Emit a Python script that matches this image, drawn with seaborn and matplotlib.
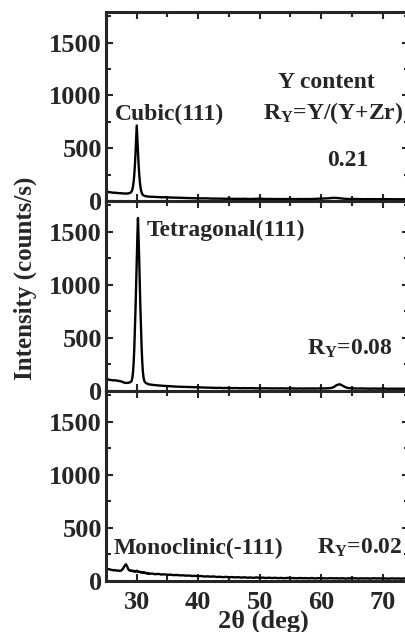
import numpy as np
import pandas as pd
import seaborn as sns
import matplotlib
matplotlib.use("Agg")
import matplotlib.pyplot as plt
from matplotlib.ticker import MultipleLocator

# ---------------- data ----------------
x_bg = [25.0, 25.25, 25.5, 25.75, 26.0, 26.25, 26.5, 26.75, 27.0, 27.25, 27.5, 27.75, 28.0, 28.25]
x_pk = [28.5, 28.6, 28.7, 28.8, 28.9, 29.0, 29.1, 29.2, 29.3, 29.4,
        29.5, 29.6, 29.7, 29.8, 29.9, 30.0, 30.1, 30.2, 30.3, 30.4,
        30.5, 30.6, 30.7, 30.8, 30.9, 31.0, 31.1, 31.2, 31.3, 31.4,
        31.5, 31.6, 31.7, 31.8, 31.9, 32.0]
x_tail = [32.5, 33.0, 33.5, 34.0, 34.5, 35.0, 35.5, 36.0, 36.5, 37.0,
          37.5, 38.0, 38.5, 39.0, 39.5, 40.0, 40.5, 41.0, 41.5, 42.0,
          42.5, 43.0, 43.5, 44.0, 44.5, 45.0, 45.5, 46.0, 46.5, 47.0,
          47.5, 48.0, 48.5, 49.0, 49.5, 50.0, 50.5, 51.0, 51.5, 52.0,
          52.5, 53.0, 53.5, 54.0, 54.5, 55.0, 55.5, 56.0, 56.5, 57.0,
          57.5, 58.0, 58.5, 59.0, 59.5, 60.0, 60.5, 61.0, 61.5, 62.0,
          62.5, 63.0, 63.5, 64.0, 64.5, 65.0, 65.5, 66.0, 66.5, 67.0,
          67.5, 68.0, 68.5, 69.0, 69.5, 70.0, 70.5, 71.0, 71.5, 72.0,
          72.5, 73.0, 73.5, 74.0, 74.5]
two_theta = x_bg + x_pk + x_tail

# R_Y = 0.21 (cubic)
I_021 = ([95, 88, 84, 82, 80, 78, 79, 76, 75, 74, 72, 71, 70, 70] +
         [71, 72, 73, 75, 77, 80, 85, 95, 112, 140,
          185, 250, 340, 450, 580, 715, 590, 460, 350, 255,
          185, 135, 100, 80, 66, 58, 53, 50, 48, 46,
          45, 44, 43, 43, 42, 41] +
         [40, 38, 37, 35, 36, 34, 33, 32, 31, 30,
          30, 28, 28, 27, 26, 25, 25, 24, 25, 23,
          23, 22, 23, 22, 21, 22, 21, 20, 21, 20,
          21, 20, 19, 20, 21, 22, 20, 19, 20, 19,
          18, 19, 18, 19, 18, 19, 18, 18, 19, 18,
          19, 18, 19, 21, 22, 21, 22, 25, 28, 30,
          29, 26, 22, 20, 19, 18, 19, 18, 18, 17,
          18, 17, 18, 17, 18, 17, 18, 17, 17, 16,
          17, 16, 17, 16, 16])

# R_Y = 0.08 (tetragonal)
I_008 = ([128, 112, 106, 104, 102, 100, 101, 98, 96, 93, 90, 84, 78, 76] +
         [76, 77, 78, 80, 82, 85, 90, 100, 130, 180,
          270, 400, 570, 770, 1000, 1240, 1450, 1630, 1450, 1240,
          1000, 770, 570, 400, 270, 180, 130, 100, 88, 80,
          75, 72, 68, 66, 64, 62] +
         [58, 55, 52, 50, 48, 46, 45, 43, 41, 40,
          39, 37, 36, 35, 34, 33, 32, 32, 31, 30,
          30, 29, 30, 28, 29, 28, 27, 28, 27, 26,
          27, 26, 27, 26, 25, 26, 25, 26, 25, 24,
          25, 24, 25, 24, 24, 25, 24, 23, 24, 23,
          24, 23, 24, 23, 24, 25, 24, 25, 27, 35,
          55, 64, 50, 34, 27, 25, 24, 23, 24, 23,
          23, 22, 23, 22, 22, 23, 22, 21, 22, 21,
          22, 21, 22, 21, 21])

# R_Y = 0.02 (monoclinic)
I_002 = ([118, 110, 112, 106, 104, 100, 103, 97, 99, 95, 100, 115, 140, 158] +
         [130, 115, 105, 100, 98, 102, 96, 94, 97, 92,
          95, 90, 93, 88, 92, 98, 90, 86, 89, 84,
          87, 82, 85, 80, 83, 78, 81, 76, 79, 74,
          77, 72, 75, 70, 73, 68] +
         [70, 64, 67, 61, 63, 58, 60, 55, 57, 53,
          54, 50, 52, 47, 49, 45, 47, 42, 44, 41,
          43, 38, 40, 36, 39, 35, 37, 34, 36, 32,
          35, 31, 33, 30, 34, 29, 32, 28, 31, 28,
          30, 27, 29, 26, 29, 27, 28, 25, 28, 26,
          27, 25, 28, 24, 27, 25, 26, 24, 27, 25,
          26, 24, 26, 23, 25, 24, 26, 23, 25, 24,
          25, 23, 26, 24, 25, 23, 24, 22, 25, 23,
          24, 22, 24, 23, 24])

x_ticks = [30, 40, 50, 60, 70]
y_ticks = [0, 500, 1000, 1500]
phase_labels = ["Cubic(111)", "Tetragonal(111)", "Monoclinic(-111)"]
ry_labels = ["0.21", r"R$_{\rm Y}$=0.08", r"R$_{\rm Y}$=0.02"]

# ---------------- style ----------------
sns.set_style("ticks")
plt.rcParams["font.family"] = ["Liberation Serif", "DejaVu Serif"]
plt.rcParams["font.weight"] = "bold"
plt.rcParams["mathtext.fontset"] = "custom"
plt.rcParams["mathtext.rm"] = "Liberation Serif:bold"
plt.rcParams["mathtext.it"] = "Liberation Serif:bold"
plt.rcParams["mathtext.bf"] = "Liberation Serif:bold"

W, H = 406, 632
fig = plt.figure(figsize=(W / 100, H / 100), dpi=100)

left = 106 / W
right_px = 408.5
width = (right_px - 106) / W
panels_px = [(12, 201), (201, 391), (391, 581)]

series = [I_021, I_008, I_002]
axes = []
for i, ((top_px, bot_px), yy) in enumerate(zip(panels_px, series)):
    ax = fig.add_axes([left, 1 - bot_px / H, width, (bot_px - top_px) / H])
    df = pd.DataFrame({"two_theta": two_theta, "I": yy})
    sns.lineplot(data=df, x="two_theta", y="I", ax=ax, color="black",
                 lw=1.7, estimator=None, sort=False)
    ax.set_xlim(25, 74.2)
    ax.set_ylim(0, 1790)
    ax.set_xticks(x_ticks)
    ax.xaxis.set_minor_locator(MultipleLocator(5))
    ax.set_yticks(y_ticks)
    ax.yaxis.set_minor_locator(MultipleLocator(250))
    ax.set_xlabel("")
    ax.set_ylabel("")
    for s in ax.spines.values():
        s.set_linewidth(2.2)
        s.set_visible(True)
    ax.tick_params(which="both", direction="in", top=True, right=True,
                   width=1.5, labelsize=19)
    ax.tick_params(which="major", length=5)
    ax.tick_params(which="minor", length=3.5)
    ax.tick_params(axis="y", pad=3)
    ax.tick_params(axis="x", pad=7)
    for lab in ax.get_yticklabels() + ax.get_xticklabels():
        lab.set_fontweight("bold")
    if i < 2:
        ax.set_xticklabels([])
    axes.append(ax)

tfs = 17
a0, a1, a2 = axes
a0.text(26.4, 817, phase_labels[0], fontsize=tfs, fontweight="bold", va="center", ha="left")
a0.text(60.9, 1120, "Y content", fontsize=tfs, fontweight="bold", va="center", ha="center")
a0.text(73.3, 830, r"R$_{\rm Y}$=Y/(Y+Zr)", fontsize=tfs, fontweight="bold", va="center", ha="right")
a0.text(64.4, 380, ry_labels[0], fontsize=tfs, fontweight="bold", va="center", ha="center")

a1.text(31.6, 1510, phase_labels[1], fontsize=tfs, fontweight="bold", va="center", ha="left")
a1.text(71.7, 400, ry_labels[1], fontsize=tfs, fontweight="bold", va="center", ha="right")

a2.text(26.2, 310, phase_labels[2], fontsize=tfs, fontweight="bold", va="center", ha="left")
a2.text(73.3, 310, ry_labels[2], fontsize=tfs, fontweight="bold", va="center", ha="right")

fig.text(25 / W, 1 - 278 / H, "Intensity (counts/s)", rotation=90, fontsize=18,
         fontweight="bold", ha="center", va="center")
fig.text(263 / W, 1 - 621 / H, "2θ (deg)", fontsize=19, fontweight="bold",
         ha="center", va="center")

fig.savefig("out.png", dpi=100)
